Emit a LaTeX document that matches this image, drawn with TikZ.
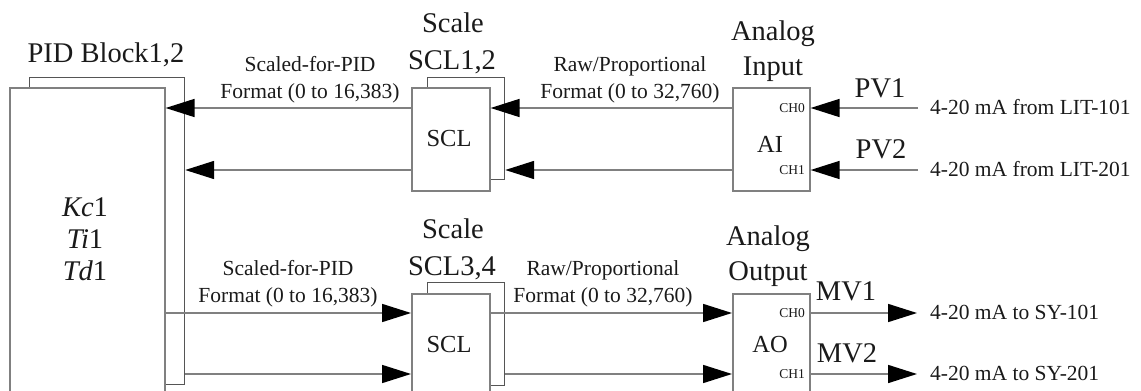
\documentclass[tikz,border=0pt]{standalone}
\usepackage{fontspec}
\setmainfont{Liberation Serif}
\usetikzlibrary{arrows.meta}
\definecolor{linegray}{HTML}{808080}
\definecolor{backgray}{HTML}{555555}
\definecolor{txt}{HTML}{1A1A1A}
\begin{document}
\begin{tikzpicture}[x=1pt,y=-1pt,
  frontbox/.style={draw=linegray, line width=1.6pt, fill=white, inner sep=0pt, anchor=north west},
  backbox/.style={draw=backgray, line width=1.2pt, fill=white, inner sep=0pt, anchor=north west},
  arr/.style={draw=linegray, line width=1.6pt, -{Triangle[length=29pt,width=18pt,color=black]}},
  lbl/.style={inner sep=0pt, anchor=base, text=txt},
  bigf/.style={lbl, font=\fontsize{28.5}{34}\selectfont},
  boxf/.style={lbl, font=\fontsize{24.5}{29}\selectfont},
  smallf/.style={lbl, font=\fontsize{21.5}{26}\selectfont},
  chf/.style={inner sep=0pt, anchor=base east, text=txt, font=\fontsize{13.5}{16}\selectfont},
  sidef/.style={inner sep=0pt, anchor=base west, text=txt, font=\fontsize{21.5}{26}\selectfont}]
\useasboundingbox (0,0) rectangle (1141,391);
\clip (0,0) rectangle (1141,391);

% row reference coordinates
\coordinate (r1) at (0,108);
\coordinate (r2) at (0,170);
\coordinate (r3) at (0,313);
\coordinate (r4) at (0,374);

% PID block
\node[backbox, minimum width=155pt, minimum height=307pt] (pidB) at (29,77) {};
\node[frontbox, minimum width=155pt, minimum height=330pt] (pidF) at (9,87) {};
\node[bigf] (pidT) at (106,62) {PID Block1,2};
\node[bigf] (kc) at (85,216) {\textit{Kc}1};
\node[bigf] (ti) at (85,248) {\textit{Ti}1};
\node[bigf] (td) at (85,280) {\textit{Td}1};

% Scale 1,2
\node[backbox, minimum width=77pt, minimum height=102pt] (s1B) at (427,77) {};
\node[frontbox, minimum width=78pt, minimum height=103pt] (s1F) at (411,87) {};
\node[boxf] (s1L) at (449,146) {SCL};
\node[bigf] (s1T1) at (453,32) {Scale};
\node[bigf] (s1T2) at (452,69) {SCL1,2};

% Analog input
\node[frontbox, minimum width=77pt, minimum height=103pt] (ai) at (732,87) {};
\node[boxf] (aiL) at (770,152) {AI};
\node[chf] (ai0) at (805,112) {CH0};
\node[chf] (ai1) at (805,174) {CH1};
\node[bigf] (aiT1) at (773,40) {Analog};
\node[bigf] (aiT2) at (773,75) {Input};

% Scale 3,4
\node[backbox, minimum width=77pt, minimum height=103pt] (s2B) at (427,282) {};
\node[frontbox, minimum width=78pt, minimum height=130pt] (s2F) at (411,293) {};
\node[boxf] (s2L) at (449,352) {SCL};
\node[bigf] (s2T1) at (453,238) {Scale};
\node[bigf] (s2T2) at (452,275) {SCL3,4};

% Analog output
\node[frontbox, minimum width=77pt, minimum height=130pt] (ao) at (732,293) {};
\node[boxf] (aoL) at (770,352) {AO};
\node[chf] (ao0) at (805,317) {CH0};
\node[chf] (ao1) at (805,378) {CH1};
\node[bigf] (aoT1) at (768,245) {Analog};
\node[bigf] (aoT2) at (768,280) {Output};

% free ends
\coordinate (in1) at (918,108);
\coordinate (in2) at (918,170);
\coordinate (out1) at (917,313);
\coordinate (out2) at (917,374);

% connectors, upper
\draw[arr] (s1F.west |- r1) -- (pidF.east |- r1);
\draw[arr] (s1F.west |- r2) -- (pidB.east |- r2);
\draw[arr] (ai.west |- r1) -- (s1F.east |- r1);
\draw[arr] (ai.west |- r2) -- (s1B.east |- r2);
\draw[arr] (in1) -- (ai.east |- in1);
\draw[arr] (in2) -- (ai.east |- in2);

% connectors, lower
\draw[arr] (pidF.east |- r3) -- (s2F.west |- r3);
\draw[arr] (pidB.east |- r4) -- (s2F.west |- r4);
\draw[arr] (s2F.east |- r3) -- (ao.west |- r3);
\draw[arr] (s2B.east |- r4) -- (ao.west |- r4);
\draw[arr] (ao.east |- out1) -- (out1);
\draw[arr] (ao.east |- out2) -- (out2);

% connector labels
\node[smallf] (la1) at (310,71) {Scaled-for-PID};
\node[smallf] (la2) at (310,98) {Format (0 to 16,383)};
\node[smallf] (lb1) at (630,71) {Raw/Proportional};
\node[smallf] (lb2) at (630,98) {Format (0 to 32,760)};
\node[smallf] (lc1) at (288,275) {Scaled-for-PID};
\node[smallf] (lc2) at (288,302) {Format (0 to 16,383)};
\node[smallf] (ld1) at (603,275) {Raw/Proportional};
\node[smallf] (ld2) at (603,302) {Format (0 to 32,760)};

\node[bigf] (pv1) at (880,97) {PV1};
\node[bigf] (pv2) at (881,158) {PV2};
\node[bigf] (mv1) at (846,300) {MV1};
\node[bigf] (mv2) at (847,362) {MV2};

\node[sidef] (e1) at (930,114) {4-20 mA from LIT-101};
\node[sidef] (e2) at (930,176) {4-20 mA from LIT-201};
\node[sidef] (e3) at (930,319) {4-20 mA to SY-101};
\node[sidef] (e4) at (930,380) {4-20 mA to SY-201};
\end{tikzpicture}
\end{document}
